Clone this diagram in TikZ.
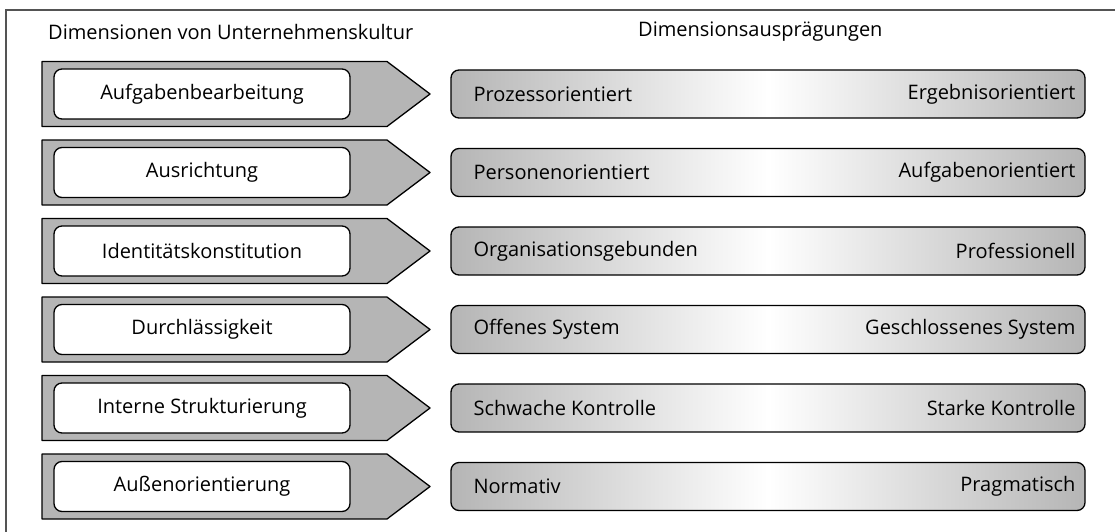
\documentclass[tikz,border=0pt]{standalone}
\usepackage{fontspec}
\setmainfont{Open Sans}
\usepackage{xcolor}
\usepackage{tikz}
\definecolor{pfeilgrau}{gray}{0.71}
\definecolor{rahmengrau}{gray}{0.33}

\begin{document}
\begin{tikzpicture}[x=1pt,y=-1pt,
  pfeil/.style={draw=black,line width=1.3pt,fill=pfeilgrau,line join=round},
  dimbox/.style={draw=black,line width=1.3pt,fill=white,rounded corners=8pt,
    minimum width=296pt,minimum height=50pt,font=\fontsize{20}{24}\selectfont},
  auspbox/.style={draw=black,line width=1.3pt,rounded corners=8pt,
    minimum width=634pt,minimum height=48pt,
    left color=pfeilgrau,right color=pfeilgrau,middle color=white},
  ausptext/.style={font=\fontsize{20}{24}\selectfont,inner sep=0pt},
  kopf/.style={font=\fontsize{20}{24}\selectfont,anchor=west,inner sep=0pt}]
\useasboundingbox (0,0) rectangle (1115,532);
\draw[rahmengrau,line width=2pt] (6,532) -- (6,10) -- (1115,10);
\node[kopf] (K1) at (48,32) {Dimensionen von Unternehmenskultur};
\node[kopf] (K2) at (638,32) {Dimensionsausprägungen};

\draw[pfeil] (42,61.5) -- (387,61.5) -- (430,94) -- (387,126.5) -- (42,126.5) -- cycle;
\node[dimbox] (D1) at (202,94) {Aufgabenbearbeitung};
\node[auspbox] (B1) at (768,94) {};
\node[ausptext,anchor=west] (L1) at ([xshift=23pt]B1.west) {Prozessorientiert};
\node[ausptext,anchor=east] (R1) at ([xshift=-10pt]B1.east) {Ergebnisorientiert};

\draw[pfeil] (42,140) -- (387,140) -- (430,172.5) -- (387,205) -- (42,205) -- cycle;
\node[dimbox] (D2) at (202,172.5) {Ausrichtung};
\node[auspbox] (B2) at (768,172.5) {};
\node[ausptext,anchor=west] (L2) at ([xshift=23pt]B2.west) {Personenorientiert};
\node[ausptext,anchor=east] (R2) at ([xshift=-10pt]B2.east) {Aufgabenorientiert};

\draw[pfeil] (42,218.5) -- (387,218.5) -- (430,251) -- (387,283.5) -- (42,283.5) -- cycle;
\node[dimbox] (D3) at (202,251) {Identitätskonstitution};
\node[auspbox] (B3) at (768,251) {};
\node[ausptext,anchor=west] (L3) at ([xshift=23pt]B3.west) {Organisationsgebunden};
\node[ausptext,anchor=east] (R3) at ([xshift=-10pt]B3.east) {Professionell};

\draw[pfeil] (42,297) -- (387,297) -- (430,329.5) -- (387,362) -- (42,362) -- cycle;
\node[dimbox] (D4) at (202,329.5) {Durchlässigkeit};
\node[auspbox] (B4) at (768,329.5) {};
\node[ausptext,anchor=west] (L4) at ([xshift=23pt]B4.west) {Offenes System};
\node[ausptext,anchor=east] (R4) at ([xshift=-10pt]B4.east) {Geschlossenes System};

\draw[pfeil] (42,375.5) -- (387,375.5) -- (430,408) -- (387,440.5) -- (42,440.5) -- cycle;
\node[dimbox] (D5) at (202,408) {Interne Strukturierung};
\node[auspbox] (B5) at (768,408) {};
\node[ausptext,anchor=west] (L5) at ([xshift=23pt]B5.west) {Schwache Kontrolle};
\node[ausptext,anchor=east] (R5) at ([xshift=-10pt]B5.east) {Starke Kontrolle};

\draw[pfeil] (42,454) -- (387,454) -- (430,486.5) -- (387,519) -- (42,519) -- cycle;
\node[dimbox] (D6) at (202,486.5) {Außenorientierung};
\node[auspbox] (B6) at (768,486.5) {};
\node[ausptext,anchor=west] (L6) at ([xshift=23pt]B6.west) {Normativ};
\node[ausptext,anchor=east] (R6) at ([xshift=-10pt]B6.east) {Pragmatisch};
\end{tikzpicture}
\end{document}
